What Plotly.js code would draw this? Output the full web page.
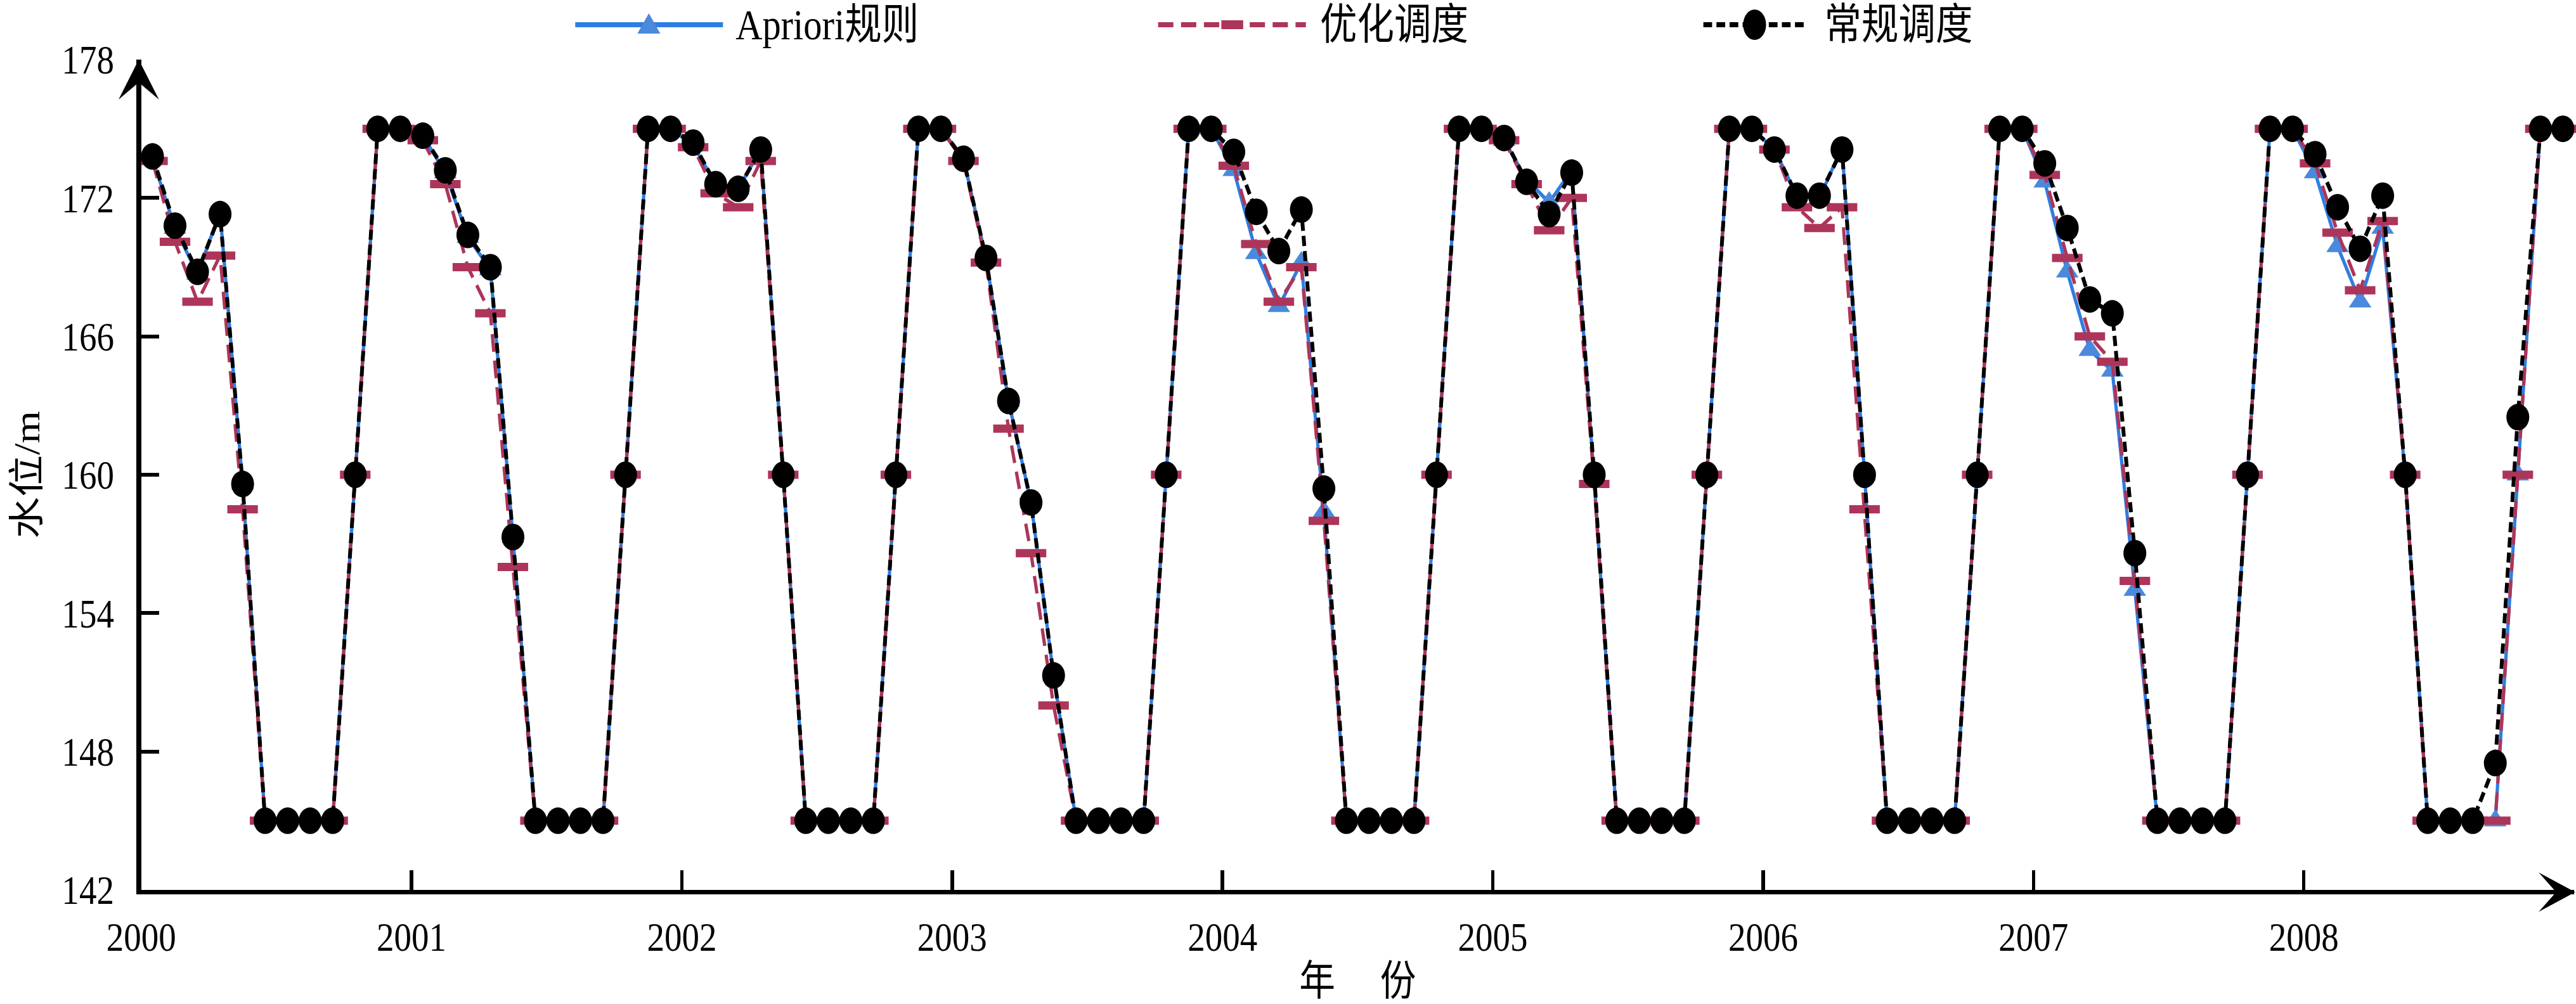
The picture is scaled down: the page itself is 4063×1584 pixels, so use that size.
<!DOCTYPE html>
<html><head><meta charset="utf-8">
<script src="https://cdn.plot.ly/plotly-3.0.1.min.js"></script>
<style>
html,body{margin:0;padding:0;overflow:hidden;background:#fff;width:4063px;height:1584px}
#chart{width:4725px;height:1584px;transform:scaleX(0.86);transform-origin:0 0;}
</style>
</head><body><div id="chart"></div>
<script>
// ---------- data ----------
const seriesNames = ['Apriori规则', '优化调度', '常规调度'];
const yearTicks = [2000, 2001, 2002, 2003, 2004, 2005, 2006, 2007, 2008, 2009];
const yearLabels = ['2000', '2001', '2002', '2003', '2004', '2005', '2006', '2007', '2008', ''];
const levelTicks = [142, 148, 154, 160, 166, 172, 178];
const xTitle = '\u00a0\u00a0\u00a0年\u3000\u00a0份';
const yTitle = '水位/m';

// monthly water level, Jan 2000 - Dec 2008
const apriori = [
  173.7, 170.7, 168.7, 171.4, 159.6, 145, 145, 145, 145, 160, 175, 175,
  174.7, 173.1, 170.3, 168.9, 157.3, 145, 145, 145, 145, 160, 175, 175,
  174.3, 172.6, 172.4, 174.1, 160.0, 145, 145, 145, 145, 160, 175, 175,
  173.7, 169.4, 163.2, 158.8, 151.3, 145, 145, 145, 145, 160, 175, 175,
  173.2, 169.6, 167.3, 169.2, 158.4, 145, 145, 145, 145, 160, 175, 175,
  174.5, 172.8, 171.8, 173.2, 159.8, 145, 145, 145, 145, 160, 175, 175,
  174.1, 172.1, 172.0, 174.2, 160.0, 145, 145, 145, 145, 160, 175, 175,
  172.7, 168.8, 165.4, 164.5, 155.0, 145, 145, 145, 145, 160, 175, 175,
  173.1, 169.9, 167.5, 170.7, 160.0, 145, 145, 145, 145, 160, 175, 175
];
const optimized = [
  173.6, 170.1, 167.5, 169.5, 158.5, 145, 145, 145, 145, 160, 175, 175,
  174.5, 172.6, 169.0, 167.0, 156.0, 145, 145, 145, 145, 160, 175, 175,
  174.2, 172.2, 171.6, 173.6, 160.0, 145, 145, 145, 145, 160, 175, 175,
  173.6, 169.2, 162.0, 156.6, 150.0, 145, 145, 145, 145, 160, 175, 175,
  173.4, 170.0, 167.5, 169.0, 158.0, 145, 145, 145, 145, 160, 175, 175,
  174.5, 172.6, 170.6, 172.0, 159.6, 145, 145, 145, 145, 160, 175, 175,
  174.1, 171.6, 170.7, 171.6, 158.5, 145, 145, 145, 145, 160, 175, 175,
  173.0, 169.4, 166.0, 164.9, 155.4, 145, 145, 145, 145, 160, 175, 175,
  173.5, 170.5, 168.0, 171.0, 160.0, 145, 145, 145, 145, 160, 175, 175
];
const conventional = [
  173.8, 170.8, 168.8, 171.3, 159.6, 145, 145, 145, 145, 160, 175, 175,
  174.7, 173.2, 170.4, 169.0, 157.3, 145, 145, 145, 145, 160, 175, 175,
  174.4, 172.6, 172.4, 174.1, 160.0, 145, 145, 145, 145, 160, 175, 175,
  173.7, 169.4, 163.2, 158.8, 151.3, 145, 145, 145, 145, 160, 175, 175,
  174.0, 171.4, 169.7, 171.5, 159.4, 145, 145, 145, 145, 160, 175, 175,
  174.6, 172.7, 171.3, 173.1, 160.0, 145, 145, 145, 145, 160, 175, 175,
  174.1, 172.1, 172.1, 174.1, 160.0, 145, 145, 145, 145, 160, 175, 175,
  173.5, 170.7, 167.6, 167.0, 156.6, 145, 145, 145, 145, 160, 175, 175,
  173.9, 171.6, 169.8, 172.1, 160.0, 145, 145, 145, 147.5, 162.5, 175, 175
];

// ---------- chart ----------
const startYear = 2000;
const monthX = conventional.map((_, i) => startYear + (i + 0.5) / 12);

const W = 4725, H = 1584, L = 259, R = 4, T = 94, B = 180;
const plotH = H - T - B;
const serif = "'Liberation Serif', 'Times New Roman', 'Noto Sans CJK SC', serif";

const BLUE = '#2f7de1', BLUE_M = '#4a89dc', RED = '#ad3559', BLACK = '#000000';

const traces = [
  { x: monthX, y: apriori, name: seriesNames[0], type: 'scatter', mode: 'lines+markers',
    line: { color: BLUE, width: 6 }, marker: { symbol: 'triangle-up', size: 36, color: BLUE_M },
    cliponaxis: false, showlegend: false },
  { x: monthX, y: optimized, name: seriesNames[1], type: 'scatter', mode: 'lines+markers',
    line: { color: RED, width: 6, dash: '28px,14px' },
    marker: { symbol: 'line-ew-open', size: 40, color: RED, line: { width: 13, color: RED } },
    cliponaxis: false, showlegend: false },
  { x: monthX, y: conventional, name: seriesNames[2], type: 'scatter', mode: 'lines+markers',
    line: { color: BLACK, width: 7, dash: '16px,8px' }, marker: { symbol: 'circle', size: 42, color: BLACK },
    cliponaxis: false, showlegend: false }
];

// custom legend (layout decorations, pixel-sized)
const legY = 1 + 55 / plotH;
const shapes = [
  // y axis arrow head
  { type: 'path', xref: 'paper', yref: 'paper', xsizemode: 'pixel', ysizemode: 'pixel', xanchor: 0, yanchor: 1,
    path: 'M-4.5,0 L32.5,-63 L-4.5,-36 L-41.5,-63 Z', fillcolor: BLACK, line: { width: 0 } },
  // x axis arrow head
  { type: 'path', xref: 'paper', yref: 'paper', xsizemode: 'pixel', ysizemode: 'pixel', xanchor: 1, yanchor: 0,
    path: 'M2,-3.5 L-65,27.5 L-33,-3.5 L-65,-34.5 Z', fillcolor: BLACK, line: { width: 0 } },
  // legend: Apriori
  { type: 'line', xref: 'paper', yref: 'paper', xsizemode: 'pixel', xanchor: 0, x0: 1055 - L, x1: 1326 - L, y0: legY, y1: legY,
    line: { color: BLUE, width: 8 } },
  { type: 'path', xref: 'paper', yref: 'paper', xsizemode: 'pixel', ysizemode: 'pixel', xanchor: 0, yanchor: legY,
    path: `M${1190 - L - 21},-14 L${1190 - L + 21},-14 L${1190 - L},18 Z`, fillcolor: BLUE_M, line: { width: 0 } },
  // legend: optimized
  { type: 'line', xref: 'paper', yref: 'paper', xsizemode: 'pixel', xanchor: 0, x0: 2124 - L, x1: 2395 - L, y0: legY, y1: legY,
    line: { color: RED, width: 8, dash: '28px,14px' } },
  { type: 'rect', xref: 'paper', yref: 'paper', xsizemode: 'pixel', ysizemode: 'pixel', xanchor: 0, yanchor: legY,
    x0: 2260 - L - 20, x1: 2260 - L + 20, y0: -7, y1: 7, fillcolor: RED, line: { width: 0 } },
  // legend: conventional
  { type: 'line', xref: 'paper', yref: 'paper', xsizemode: 'pixel', xanchor: 0, x0: 3124 - L, x1: 3314 - L, y0: legY, y1: legY,
    line: { color: BLACK, width: 8, dash: '16px,8px' } },
  { type: 'circle', xref: 'paper', yref: 'paper', xsizemode: 'pixel', ysizemode: 'pixel', xanchor: 0, yanchor: legY,
    x0: 3218 - L - 21, x1: 3218 - L + 21, y0: -24, y1: 24, fillcolor: BLACK, line: { width: 0 } }
];

const legendTextX = [1347, 2419, 3344];
const annotations = seriesNames.map((nm, k) => ({
  text: nm, xref: 'paper', yref: 'paper', x: (legendTextX[k] - L) / (W - L - R), y: legY,
  xanchor: 'left', yanchor: 'middle', showarrow: false, font: { family: serif, size: 68, color: BLACK }
}));

const layout = {
  width: W, height: H,
  margin: { l: L, r: R, t: T, b: B, pad: 0 },
  paper_bgcolor: '#ffffff', plot_bgcolor: '#ffffff',
  showlegend: false,
  font: { family: serif, color: BLACK },
  xaxis: {
    range: [2000, 2009], tickmode: 'array', tickvals: yearTicks, ticktext: yearLabels,
    ticks: 'inside', ticklen: 31, tickwidth: 6.5, tickcolor: BLACK,
    showline: true, linewidth: 7, linecolor: BLACK, showgrid: false, zeroline: false,
    tickfont: { family: serif, size: 64, color: BLACK }, ticklabelstandoff: 12,
    title: { text: xTitle, font: { family: serif, size: 66, color: BLACK }, standoff: 14 }
  },
  yaxis: {
    range: [142, 178], tickmode: 'array', tickvals: levelTicks,
    ticks: 'inside', ticklen: 33, tickwidth: 6, tickcolor: BLACK,
    showline: true, linewidth: 9, linecolor: BLACK, showgrid: false, zeroline: false,
    tickfont: { family: serif, size: 64, color: BLACK }, ticklabelstandoff: 28,
    title: { text: yTitle, font: { family: serif, size: 66, color: BLACK }, standoff: 22 }
  },
  shapes: shapes,
  annotations: annotations
};

Plotly.newPlot('chart', traces, layout, { displayModeBar: false, staticPlot: true });
</script>
</body></html>
